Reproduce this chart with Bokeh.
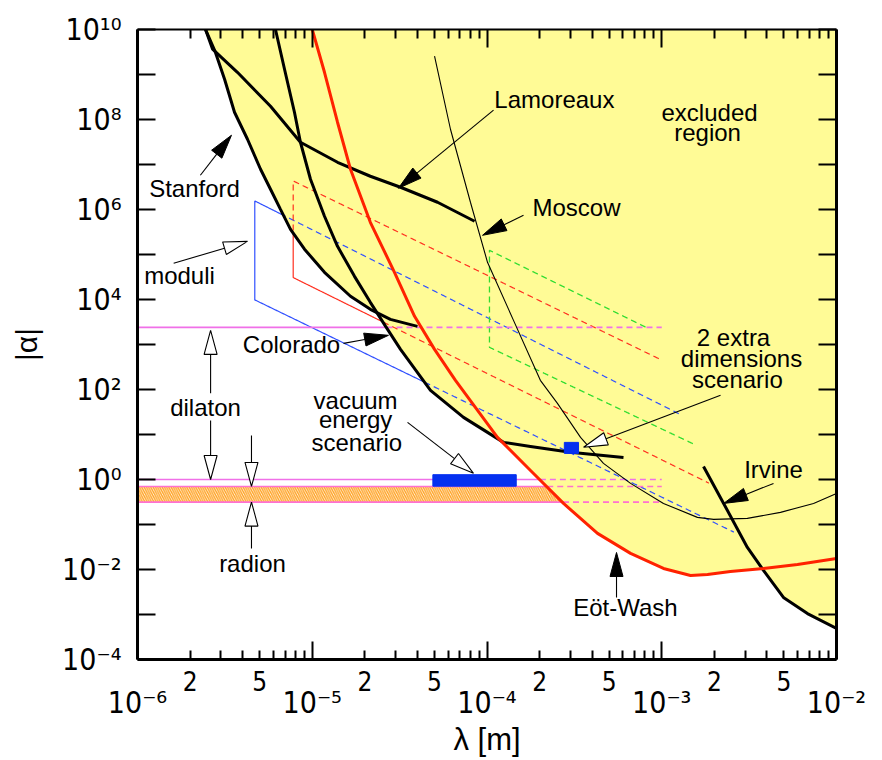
import numpy as np
from bokeh.plotting import figure
from bokeh.models import LogAxis, FixedTicker, Label, Range1d
from bokeh.embed import file_html
from bokeh.resources import INLINE

# ---------------- data (lambda in m, |alpha|) ----------------
stanford_lam = [2.45e-6, 2.79e-6, 3.15e-6, 3.59e-6, 4.26e-6, 5.06e-6, 5.77e-6, 6.58e-6,
                7.51e-6, 9.03e-6, 1.175e-5, 1.655e-5, 2.15e-5, 2.80e-5, 4.0e-5]
stanford_alpha = [1e10, 3.13e9, 7.85e8, 1.45e8, 3.64e7, 7.84e6, 2.82e6, 1.01e6,
                  3.63e5, 1.31e5, 4.02e4, 1.18e4, 6.05e3, 3.62e3, 2.53e3]

lamoreaux_lam = [2.45e-6, 2.69e-6, 3.73e-6, 5.77e-6, 8.56e-6, 1.395e-5, 2.15e-5, 3.20e-5, 5.21e-5, 8.49e-5]
lamoreaux_alpha = [1e10, 3.65e9, 1.12e9, 1.97e8, 3.12e7, 1.12e7, 5.48e6, 3.12e6, 1.45e6, 5.47e5]

colorado_lam = [6.16e-6, 6.94e-6, 7.91e-6, 8.56e-6, 9.77e-6, 1.175e-5, 1.395e-5, 1.745e-5, 2.15e-5,
                2.63e-5, 3.20e-5, 4.75e-5, 7.34e-5, 1.243e-4, 1.774e-4, 3.00e-4, 6.04e-4]
colorado_alpha = [1e10, 1.31e9, 1.45e8, 3.12e7, 4.70e6, 7.07e5, 1.52e5, 3.27e4, 8.65e3,
                  2.53e3, 780, 95.7, 24.0, 6.68, 5.44, 4.01, 3.10]

eotwash_lam = [1.0e-5, 1.175e-5, 1.395e-5, 1.655e-5, 2.15e-5, 2.955e-5, 3.85e-5, 5.01e-5, 6.60e-5,
               1.148e-4, 1.774e-4, 2.74e-4, 4.29e-4, 6.63e-4, 1.023e-3, 1.461e-3, 1.827e-3,
               2.47e-3, 3.82e-3, 5.98e-3, 1.0e-2]
eotwash_alpha = [1e10, 1.12e9, 8.69e7, 7.84e6, 5.2e5, 4.02e4, 4.23e3, 780, 160,
                 8.63, 1.59, 0.294, 0.0634, 0.0228, 0.01056, 7.38e-3, 7.77e-3,
                 9.06e-3, 0.01056, 0.01297, 0.01762]

moscow_lam = [5.01e-5, 6.18e-5, 8.04e-5, 1.0066e-4, 1.418e-4, 2.02e-4, 2.53e-4, 3.43e-4, 4.64e-4,
              6.63e-4, 1.023e-3, 1.60e-3, 1.98e-3, 3.09e-3, 4.78e-3, 7.39e-3, 1.0e-2]
moscow_alpha = [2.55e9, 6.07e7, 1.45e6, 6.71e4, 3.44e3, 160, 49.2, 8.63, 2.28,
                0.819, 0.294, 0.144, 0.130, 0.137, 0.186, 0.294, 0.491]

irvine_lam = [1.734e-3, 2.26e-3, 3.09e-3, 3.82e-3, 4.97e-3, 6.82e-3, 1.0e-2]
irvine_alpha = [1.95, 0.294, 0.0309, 9.53e-3, 2.39e-3, 1.05e-3, 4.9e-4]

# theory regions: top-right end, top-left, bottom-left, bottom-right end
moduli_lam = [1.252e-3, 4.69e-6, 4.69e-6, 2.585e-3]
moduli_alpha = [29.0, 1.55e6, 9.8e3, 0.0678]
extra_red_lam = [9.62e-4, 7.78e-6, 7.78e-6, 1.86e-3]
extra_red_alpha = [484, 4.31e6, 3.07e4, 0.832]
extra_green_lam = [8.07e-4, 1.033e-4, 1.033e-4, 1.58e-3]
extra_green_alpha = [2.44e3, 1.24e5, 865, 5.73]

dilaton_lam = [1e-6, 1e-3]
dilaton_alpha = [2.4e3, 1.0]
radion_lam = [1e-6, 1e-3]
radion_alpha = [0.70, 0.315]

vacuum_lam = [4.9e-5, 1.47e-4]
vacuum_alpha = [0.71, 1.28]
twoed_lam = [2.77e-4, 3.34e-4]
twoed_alpha = [3.8, 6.68]

# annotations
label_text = ["Stanford", "moduli", "Colorado", "dilaton", "radion", "vacuum", "energy", "scenario",
              "Lamoreaux", "excluded", "region", "Moscow", "2 extra", "dimensions", "scenario",
              "Irvine", "Eöt-Wash"]
label_lam = [2.12e-6, 1.74e-6, 7.61e-6, 2.45e-6, 4.55e-6, 1.77e-5, 1.77e-5, 1.8e-5,
             2.43e-4, 1.877e-3, 1.83e-3, 3.25e-4, 2.575e-3, 2.86e-3, 2.71e-3, 4.36e-3, 6.20e-4]
label_alpha = [2.96e6, 3.45e4, 1.01e3, 40.1, 0.01364, 57.4, 21.7, 6.68,
               2.82e8, 1.45e8, 5.21e7, 1.12e6, 1.443e3, 492, 166, 1.63, 1.40e-3]

arrow_start_lam = [2.29e-6, 1.61e-6, 1.51e-5, 1.09e-4, 1.618e-4, 2.62e-6, 2.62e-6, 4.49e-6, 4.49e-6,
                   3.51e-5, 2.17e-3, 4.36e-3, 5.51e-4]
arrow_start_alpha = [5.77e6, 6.37e4, 1.06e3, 1.61e8, 7.44e5, 82.1, 20.6, 9.56, 0.0294,
                     18.6, 74.1, 0.819, 2.39e-3]
arrow_tip_lam = [3.45e-6, 4.26e-6, 2.73e-5, 3.11e-5, 9.43e-5, 2.62e-6, 2.62e-6, 4.49e-6, 4.49e-6,
                 8.37e-5, 3.57e-4, 2.26e-3, 5.51e-4]
arrow_tip_alpha = [4.47e7, 1.96e5, 1.60e3, 2.96e6, 2.67e5, 2.06e3, 1.0, 0.70, 0.315,
                   1.37, 5.2, 0.294, 0.0239]
arrow_filled = [True, False, True, True, True, False, False, False, False,
                False, False, True, True]

x_decade_ticks = [1e-6, 1e-5, 1e-4, 1e-3, 1e-2]
x_decade_labels = ["10\u207b\u2076", "10\u207b\u2075", "10\u207b\u2074", "10\u207b\u00b3", "10\u207b\u00b2"]
x_mid_ticks = [2e-6, 5e-6, 2e-5, 5e-5, 2e-4, 5e-4, 2e-3, 5e-3]
x_mid_labels = ["2", "5", "2", "5", "2", "5", "2", "5"]
y_label_ticks = [1e-4, 1e-2, 1e0, 1e2, 1e4, 1e6, 1e8, 1e10]
y_labels = ["10\u207b\u2074", "10\u207b\u00b2", "10\u2070", "10\u00b2", "10\u2074",
            "10\u2076", "10\u2078", "10\u00b9\u2070"]
y_odd_ticks = [1e-3, 1e-1, 1e1, 1e3, 1e5, 1e7, 1e9]

# ---------------- figure ----------------
FW, FH = 699, 630
X0, X1, Y0, Y1 = 1e-6, 1e-2, 1e-4, 1e10
p = figure(x_axis_type="log", y_axis_type="log",
           x_range=Range1d(X0, X1), y_range=Range1d(Y0, Y1),
           frame_width=FW, frame_height=FH,
           min_border_left=137, min_border_right=46, min_border_top=29, min_border_bottom=100,
           output_backend="svg", toolbar_location=None)
p.grid.visible = False
p.outline_line_color = None
p.background_fill_color = "white"

KX = FW / (np.log10(X1) - np.log10(X0))
KY = FH / (np.log10(Y1) - np.log10(Y0))

curves = [(stanford_lam, stanford_alpha), (lamoreaux_lam, lamoreaux_alpha),
          (colorado_lam, colorado_alpha), (eotwash_lam, eotwash_alpha),
          (moscow_lam, moscow_alpha), (irvine_lam, irvine_alpha)]


def env_log(ll):
    out = np.full_like(ll, np.inf, dtype=float)
    for lam, al in curves:
        v = np.interp(ll, np.log10(lam), np.log10(al), left=np.inf, right=np.inf)
        out = np.minimum(out, v)
    return out


def split(lams, alphas, n=500):
    L = np.log10(lams)
    A = np.log10(alphas)
    pl, pa = [], []
    for i in range(len(L) - 1):
        t = np.linspace(0, 1, n, endpoint=(i == len(L) - 2))
        pl.append(L[i] + t * (L[i + 1] - L[i]))
        pa.append(A[i] + t * (A[i + 1] - A[i]))
    pl = np.concatenate(pl)
    pa = np.concatenate(pa)
    excl = pa > env_log(pl)
    solid, dashed = [], []
    s = 0
    N = len(pl)
    for j in range(1, N + 1):
        if j == N or excl[j] != excl[s]:
            e = min(j + 1, N)
            seg = (list(10 ** pl[s:e]), list(10 ** pa[s:e]))
            (dashed if excl[s] else solid).append(seg)
            s = j
    return solid, dashed


def draw_split(lams, alphas, color, width=1.3, dash="6 4"):
    solid, dashed = split(lams, alphas)
    if solid:
        p.multi_line([s[0] for s in solid], [s[1] for s in solid], line_color=color, line_width=width)
    if dashed:
        p.multi_line([s[0] for s in dashed], [s[1] for s in dashed], line_color=color,
                     line_width=width, line_dash=dash)


# excluded region (yellow) = above the lower envelope of all limits
grid = np.linspace(np.log10(stanford_lam[0]), np.log10(X1), 2500)
env = env_log(grid)
p.patch(list(10 ** grid) + [X1, stanford_lam[0]], list(10 ** env) + [Y1, Y1],
        fill_color="#fffb96", line_color=None)


# radion band, hatched, up to the excluded region
def cross_lam(alpha):
    la = np.log10(alpha)
    idx = int(np.argmax(env <= la))
    return float(10 ** grid[idx])


rt, rb = radion_alpha
p.patch([radion_lam[0], cross_lam(rt), cross_lam(rb), radion_lam[0]], [rt, rt, rb, rb],
        fill_color="#fff6e6", hatch_pattern="\\", hatch_color="#ffa020", hatch_scale=4.5,
        hatch_weight=1.3, line_color=None)

# theory region outlines
draw_split(moduli_lam, moduli_alpha, "#3050ff", 1.2)
draw_split(extra_red_lam, extra_red_alpha, "#ff3020", 1.2)
draw_split(extra_green_lam, extra_green_alpha, "#30dd30", 1.3)

# dilaton / radion levels
for a in dilaton_alpha:
    draw_split(dilaton_lam, [a, a], "#f070e8", 1.6)
for a in radion_alpha:
    draw_split(radion_lam, [a, a], "#ff70d0", 1.6)

# experimental limits
p.line(moscow_lam, moscow_alpha, line_color="black", line_width=1.1)
p.line(lamoreaux_lam, lamoreaux_alpha, line_color="black", line_width=3)
p.line(stanford_lam, stanford_alpha, line_color="black", line_width=3)
p.line(colorado_lam, colorado_alpha, line_color="black", line_width=3)
p.line(irvine_lam, irvine_alpha, line_color="black", line_width=3)
p.line(eotwash_lam, eotwash_alpha, line_color="#ff2200", line_width=3)

# scenario markers
p.quad(left=[vacuum_lam[0]], right=[vacuum_lam[1]], bottom=[vacuum_alpha[0]], top=[vacuum_alpha[1]],
       fill_color="#0530f0", line_color="#0530f0")
p.quad(left=[twoed_lam[0]], right=[twoed_lam[1]], bottom=[twoed_alpha[0]], top=[twoed_alpha[1]],
       fill_color="#0530f0", line_color="#0530f0")

# arrows
HL, HW = 24.0, 13.0
shaft_x0, shaft_y0, shaft_x1, shaft_y1 = [], [], [], []
fill_xs, fill_ys, open_xs, open_ys = [], [], [], []
for xs, ys, xe, ye, filled in zip(arrow_start_lam, arrow_start_alpha, arrow_tip_lam, arrow_tip_alpha, arrow_filled):
    P0 = np.array([np.log10(xs) * KX, np.log10(ys) * KY])
    P1 = np.array([np.log10(xe) * KX, np.log10(ye) * KY])
    d = (P1 - P0) / np.hypot(*(P1 - P0))
    nrm = np.array([-d[1], d[0]])
    base = P1 - d * HL
    pts = [P1, base + nrm * HW / 2, base - nrm * HW / 2]
    hx = [float(10 ** (q[0] / KX)) for q in pts]
    hy = [float(10 ** (q[1] / KY)) for q in pts]
    shaft_x0.append(xs); shaft_y0.append(ys)
    shaft_x1.append(float(10 ** (base[0] / KX))); shaft_y1.append(float(10 ** (base[1] / KY)))
    if filled:
        fill_xs.append(hx); fill_ys.append(hy)
    else:
        open_xs.append(hx); open_ys.append(hy)

p.segment(shaft_x0, shaft_y0, shaft_x1, shaft_y1, line_color="black", line_width=1.1)
p.patches(fill_xs, fill_ys, fill_color="black", line_color="black", line_width=1)
p.patches(open_xs, open_ys, fill_color="white", line_color="black", line_width=1.1)

# texts
for t, x, y in zip(label_text, label_lam, label_alpha):
    p.add_layout(Label(x=x, y=y, text=t, text_font="Liberation Sans", text_font_size="24px",
                       text_align="center", text_baseline="middle", text_color="black"))

# ---------------- axes ----------------
minor = [m * 10.0 ** k for k in range(-6, -2) for m in range(2, 10)]
TICK_FONT = "DejaVu Sans Condensed, Liberation Sans"

xa = p.xaxis[0]
xa.ticker = FixedTicker(ticks=x_decade_ticks, minor_ticks=minor)
xa.major_label_overrides = dict(zip(x_decade_ticks, x_decade_labels))
xa.major_tick_in = 18
xa.major_tick_out = 0
xa.minor_tick_in = 9
xa.minor_tick_out = 0
xa.major_tick_line_width = 2
xa.minor_tick_line_width = 2
xa.axis_line_width = 3
xa.major_label_standoff = 25
xa.major_label_text_font = TICK_FONT
xa.major_label_text_font_size = "30px"
xa.major_label_text_color = "black"

xb = LogAxis(ticker=FixedTicker(ticks=x_mid_ticks, minor_ticks=[]))
xb.major_label_overrides = dict(zip(x_mid_ticks, x_mid_labels))
xb.axis_line_color = None
xb.major_tick_line_color = None
xb.minor_tick_line_color = None
xb.major_tick_in = 0
xb.major_tick_out = 0
xb.major_label_standoff = -52
xb.major_label_text_font = TICK_FONT
xb.major_label_text_font_size = "26px"
xb.major_label_text_color = "black"
xb.axis_label = "\u03bb [m]"
xb.axis_label_text_font = "Liberation Sans"
xb.axis_label_text_font_size = "31px"
xb.axis_label_text_font_style = "normal"
xb.axis_label_text_color = "black"
xb.axis_label_standoff = 28
p.add_layout(xb, "below")

ya = p.yaxis[0]
ya.ticker = FixedTicker(ticks=y_label_ticks, minor_ticks=y_odd_ticks)
ya.major_label_overrides = dict(zip(y_label_ticks, y_labels))
ya.major_tick_in = 18
ya.major_tick_out = 0
ya.minor_tick_in = 18
ya.minor_tick_out = 0
ya.major_tick_line_width = 2
ya.minor_tick_line_width = 2
ya.axis_line_width = 3
ya.major_label_standoff = 16
ya.major_label_text_font = TICK_FONT
ya.major_label_text_font_size = "30px"
ya.major_label_text_color = "black"
ya.axis_label = "|\u03b1|"
ya.axis_label_text_font = "Liberation Sans"
ya.axis_label_text_font_size = "30px"
ya.axis_label_text_font_style = "normal"
ya.axis_label_text_color = "black"
ya.axis_label_standoff = 16

top = LogAxis(ticker=FixedTicker(ticks=x_decade_ticks, minor_ticks=minor))
top.major_label_overrides = {t: "" for t in x_decade_ticks}
top.major_tick_in = 18
top.major_tick_out = 0
top.minor_tick_in = 9
top.minor_tick_out = 0
top.major_tick_line_width = 2
top.minor_tick_line_width = 2
top.axis_line_width = 2
top.major_label_text_font_size = "1px"
top.major_label_standoff = 0
p.add_layout(top, "above")

right = LogAxis(ticker=FixedTicker(ticks=y_label_ticks, minor_ticks=y_odd_ticks))
right.major_label_overrides = {t: "" for t in y_label_ticks}
right.major_tick_in = 18
right.major_tick_out = 0
right.minor_tick_in = 18
right.minor_tick_out = 0
right.major_tick_line_width = 2
right.minor_tick_line_width = 2
right.axis_line_width = 3
right.major_label_text_font_size = "1px"
right.major_label_standoff = 0
p.add_layout(right, "right")

open("out.html", "w").write(file_html(p, INLINE))
